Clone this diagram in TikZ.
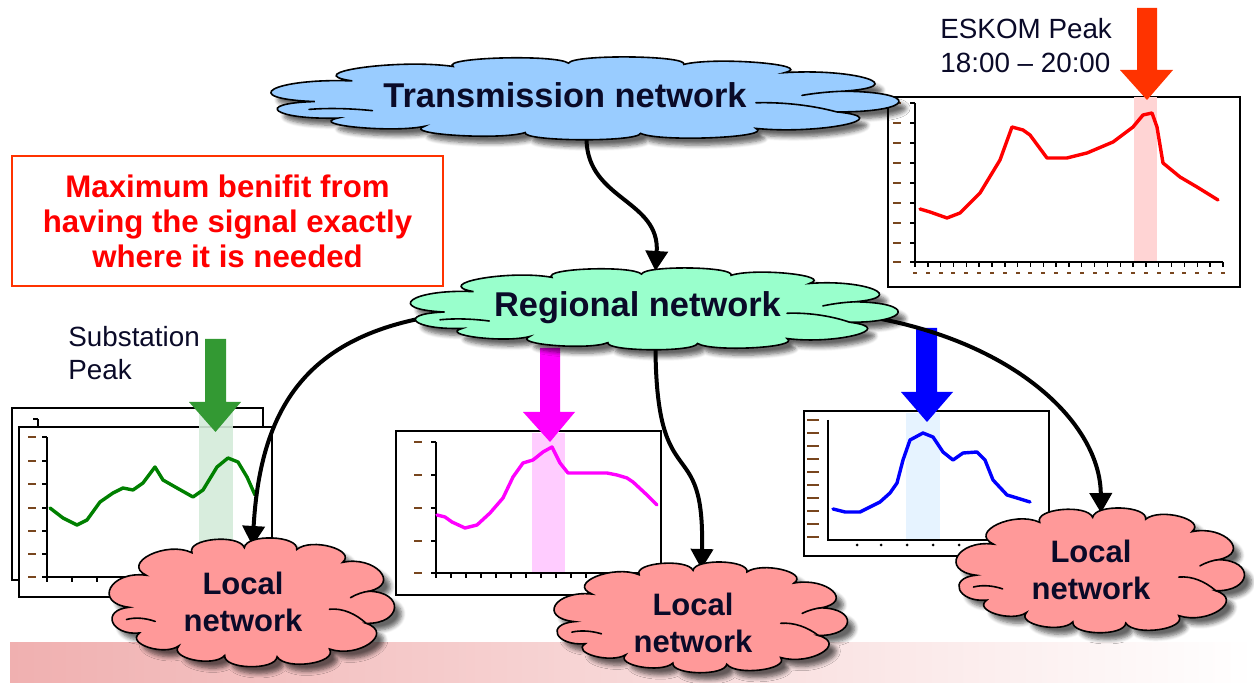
\documentclass[tikz,border=0pt]{standalone}
\usepackage{fontspec}
\setmainfont{Liberation Sans}
\usetikzlibrary{shadows.blur,arrows.meta}
\definecolor{transblue}{RGB}{153,204,255}
\definecolor{regreen}{RGB}{153,255,204}
\definecolor{localred}{RGB}{255,153,153}
\definecolor{boxred}{RGB}{255,51,0}
\definecolor{eskred}{RGB}{255,51,0}
\definecolor{pkgreen}{RGB}{51,153,51}
\definecolor{pkmagenta}{RGB}{255,0,255}
\definecolor{pkblue}{RGB}{0,0,255}
\definecolor{purered}{RGB}{255,0,0}
\definecolor{curvegreen}{RGB}{0,128,0}
\definecolor{bandred}{RGB}{255,212,212}
\definecolor{bandgreen}{RGB}{212,236,218}
\definecolor{bandpink}{RGB}{255,204,255}
\definecolor{bandblue}{RGB}{230,243,255}
\definecolor{barleft}{RGB}{240,176,176}
\definecolor{barmid}{RGB}{226,202,202}
\definecolor{ticklbl}{RGB}{120,70,30}
\definecolor{labeltext}{RGB}{10,10,40}
\def\cloudsegs{-0.93/0.05/-0.80/-0.45, -0.80/-0.45/-0.45/-0.80, -0.45/-0.80/-0.05/-0.88, -0.05/-0.88/0.35/-0.85, 0.35/-0.85/0.70/-0.65, 0.70/-0.65/0.90/-0.20, 0.90/-0.20/0.88/0.30, 0.88/0.30/0.60/0.70, 0.60/0.70/0.20/0.82, 0.20/0.82/-0.20/0.80, -0.20/0.80/-0.55/0.65, -0.55/0.65/-0.85/0.45, -0.85/0.45/-0.93/0.05}
% #1 options, #2 cx, #3 cy, #4 a, #5 b
\newcommand\cloudshape[5]{%
  \path[#1] ({#2+#4*(-0.93)},{#3+#5*(0.05)})
    \foreach \xa/\ya/\xb/\yb in \cloudsegs {
      .. controls ({#2+#4*(\xa+0.55*(\yb-\ya))},{#3+#5*(\ya-0.55*(\xb-\xa))})
      and ({#2+#4*(\xb+0.55*(\yb-\ya))},{#3+#5*(\yb-0.55*(\xb-\xa))})
      .. ({#2+#4*(\xb)},{#3+#5*(\yb)})
    } -- cycle;
  \draw[line width=0.8pt, line cap=round]
    ({#2+#4*(-0.95)},{#3+#5*(0.24)}) .. controls ({#2+#4*(-0.88)},{#3+#5*(0.20)}) and ({#2+#4*(-0.80)},{#3+#5*(0.22)}) .. ({#2+#4*(-0.73)},{#3+#5*(0.27)})
    ({#2+#4*(0.60)},{#3+#5*(0.08)}) .. controls ({#2+#4*(0.70)},{#3+#5*(0.06)}) and ({#2+#4*(0.80)},{#3+#5*(0.15)}) .. ({#2+#4*(0.88)},{#3+#5*(0.30)})
    ({#2+#4*(0.76)},{#3+#5*(-0.10)}) .. controls ({#2+#4*(0.81)},{#3+#5*(-0.16)}) and ({#2+#4*(0.86)},{#3+#5*(-0.19)}) .. ({#2+#4*(0.90)},{#3+#5*(-0.20)});
}
\tikzset{
  cloudbody/.style={fill=#1, draw=black, line width=0.8pt,
    blur shadow={shadow xshift=3.5pt, shadow yshift=-3.5pt, shadow blur steps=6, shadow opacity=60}},
  cloudarea/.style={rectangle, inner sep=0pt, outer sep=0pt},
  bigfont/.style={font=\bfseries\fontsize{17.2}{20}\selectfont, text=labeltext, inner sep=0pt},
  localfont/.style={font=\bfseries\fontsize{15.5}{18.5}\selectfont, text=labeltext, align=center, inner sep=0pt},
  chartbox/.style={draw=black, line width=1pt, fill=white},
  axisline/.style={draw=black, line width=1pt},
  tickline/.style={draw=black, line width=0.7pt},
  lbl/.style={fill=ticklbl},
  curve/.style={line width=1.7pt, line join=round, line cap=round},
  conn/.style={draw=black, line width=2pt, -{Triangle[width=11pt,length=10pt]}},
  plaintext/.style={font=\fontsize{13.9}{16}\selectfont, text=labeltext, inner sep=0pt},
}
\begin{document}
\begin{tikzpicture}[x=0.5pt,y=-0.5pt]
\useasboundingbox (0,0) rectangle (1254,683);
% bottom bar
\shade[left color=barleft, middle color=barmid, right color=white] (10,643) rectangle (1254,683);

% ---------- ESKOM chart ----------
\path[chartbox] (888,97) rectangle (1240,287);
\fill[bandred] (1134,97) rectangle (1157,262);
\foreach \yy in {103,123,143,163,183,203,223,243,262}{
  \draw[tickline] (910,\yy) -- (915,\yy);
  \fill[lbl] (893,\yy-1) rectangle (901,\yy+1);}
\foreach \i in {0,...,24}{
  \draw[tickline] (915+12.83*\i,262) -- (915+12.83*\i,267);
  \fill[lbl] (913+12.83*\i,272) rectangle (917+12.83*\i,274);}
\draw[axisline] (915,103) -- (915,262) -- (1223,262);
\draw[purered, curve] (920,209) -- (930,212) -- (947,218) -- (960,213) -- (980,193) -- (1000,160) -- (1012,127) -- (1023,130) -- (1030,135) -- (1047,158) -- (1067,158) -- (1087,153) -- (1113,142) -- (1133,127) -- (1143,115) -- (1152,113) -- (1157,127) -- (1163,163) -- (1180,177) -- (1197,187) -- (1218,200);

% ---------- green (substation) chart ----------
\path[chartbox] (12,408) rectangle (263,580);
\draw[axisline] (38,419) -- (38,560);
\draw[tickline] (33,419) -- (38,419);
\path[chartbox] (19,427) rectangle (272,597);
\foreach \yy in {437,461,484,508,531,554,577}{
  \draw[tickline] (42,\yy) -- (47,\yy);
  \fill[lbl] (28,\yy-1) rectangle (36,\yy+1);}
\foreach \i in {0,...,8}{
  \draw[tickline] (47+25*\i,577) -- (47+25*\i,582);}
\draw[axisline] (47,437) -- (47,577) -- (268,577);
\fill[bandgreen, opacity=0.9] (199,402) rectangle (233,577);
\draw[curvegreen, curve] (50,508) -- (63,518) -- (77,525) -- (87,520) -- (100,502) -- (113,493) -- (123,488) -- (133,490) -- (143,483) -- (155,467) -- (163,480) -- (177,488) -- (193,497) -- (203,490) -- (217,467) -- (228,458) -- (238,462) -- (247,477) -- (255,495);

% ---------- magenta chart ----------
\path[chartbox] (396,431) rectangle (661,595);
\fill[bandpink] (532,433) rectangle (565,573);
\foreach \yy in {442,475,508,541,573}{
  \draw[tickline] (431,\yy) -- (436,\yy);
  \fill[lbl] (414,\yy-1) rectangle (422,\yy+1);}
\foreach \i in {0,...,14}{
  \draw[tickline] (436+15*\i,573) -- (436+15*\i,578);}
\draw[axisline] (436,442) -- (436,573) -- (650,573);
\draw[pkmagenta, curve] (437,515) -- (445,517) -- (452,522) -- (465,528) -- (477,525) -- (490,513) -- (503,498) -- (513,477) -- (523,463) -- (533,460) -- (543,452) -- (552,447) -- (560,463) -- (568,473) -- (580,473) -- (607,473) -- (617,475) -- (627,478) -- (633,482) -- (647,495) -- (657,505);

% ---------- blue chart ----------
\path[chartbox] (804,411) rectangle (1049,556);
\fill[bandblue] (906,413) rectangle (940,540);
\foreach \yy in {420,433,446,459,472,485,498,511,524,537}{
  \fill[lbl] (807,\yy-1) rectangle (819,\yy+1);}
\foreach \xx in {857,881,907,933,959}{
  \fill[black] (\xx,545) circle (1.5);}
\draw[axisline] (828,420) -- (828,540) -- (1000,540);
\draw[pkblue, curve] (833,509) -- (845,512) -- (860,512) -- (870,507) -- (880,502) -- (890,493) -- (897,483) -- (903,460) -- (910,440) -- (923,433) -- (933,437) -- (943,452) -- (953,460) -- (963,453) -- (977,452) -- (985,460) -- (993,480) -- (1007,495) -- (1017,498) -- (1030,502);

% ---------- peak block arrows ----------
\fill[eskred] (1137,8) -- (1157,8) -- (1157,70) -- (1173,70) -- (1147,100) -- (1120,70) -- (1137,70) -- cycle;
\fill[pkgreen] (205,339) -- (226,339) -- (226,402) -- (241,402) -- (215.5,432) -- (189,402) -- (205,402) -- cycle;
\fill[pkmagenta] (540,348) -- (560,348) -- (560,412) -- (575,412) -- (550,442) -- (523,412) -- (540,412) -- cycle;
\fill[pkblue] (916,328) -- (937,328) -- (937,392) -- (953,392) -- (927,422) -- (901,392) -- (916,392) -- cycle;

% ---------- cloud areas (named) ----------
\node[cloudarea, minimum width=156.75pt, minimum height=41.5pt] (trans) at (586.5,98.5) {};
\node[cloudarea, minimum width=121.75pt, minimum height=41pt] (reg) at (655.5,309) {};
\node[cloudarea, minimum width=71.25pt, minimum height=64.5pt] (loc1) at (252.5,602.5) {};
\node[cloudarea, minimum width=73.25pt, minimum height=55.5pt] (loc2) at (701.5,617.5) {};
\node[cloudarea, minimum width=72pt, minimum height=62.5pt] (loc3) at (1101,570.5) {};

% ---------- connectors ----------
\draw[conn] (trans.south) .. controls (588,200) and (660,200) .. ([yshift=-1.5pt]reg.north);
\draw[conn] (reg.west) .. controls (330,308) and (262,380) .. ([yshift=-4pt]loc1.north);
\draw[conn] (reg.south) .. controls (657,500) and (705,430) .. ([yshift=-3.5pt]loc2.north);
\draw[conn] (reg.east) .. controls (980,310) and (1100,410) .. ([yshift=-2.5pt]loc3.north);

% ---------- clouds ----------
\cloudshape{cloudbody=transblue}{582.9}{99.5}{288.3}{41.3}
\cloudshape{cloudbody=regreen}{652.7}{310}{223.9}{40.8}
\cloudshape{cloudbody=localred}{250.9}{604.1}{131}{64.2}
\cloudshape{cloudbody=localred}{699.8}{618.9}{134.7}{55.2}
\cloudshape{cloudbody=localred}{1099.3}{572.1}{132.4}{62.2}
\node[bigfont, anchor=base] (transtxt) at (565,108) {Transmission network};
\node[bigfont, anchor=base] (regtxt) at (637.5,317) {Regional network};
\node[localfont] (loc1txt) at (243,602) {Local\\network};
\node[localfont] (loc2txt) at (693,622.5) {Local\\network};
\node[localfont] (loc3txt) at (1091,570) {Local\\network};

% ---------- texts ----------
\node[draw=boxred, line width=1pt, fill=white, minimum width=215.5pt, minimum height=65pt, align=center, text=purered, font=\bfseries\fontsize{15.6}{17.5}\selectfont] (msg) at (227.5,221) {Maximum benifit from\\having the signal exactly\\where it is needed};
\node[plaintext, anchor=base west] (sub1) at (68,347) {Substation};
\node[plaintext, anchor=base west] (sub2) at (68,380) {Peak};
\node[plaintext, anchor=base west] (esk1) at (940,39) {ESKOM Peak};
\node[plaintext, anchor=base west] (esk2) at (940,73) {18:00 – 20:00};
\end{tikzpicture}
\end{document}
